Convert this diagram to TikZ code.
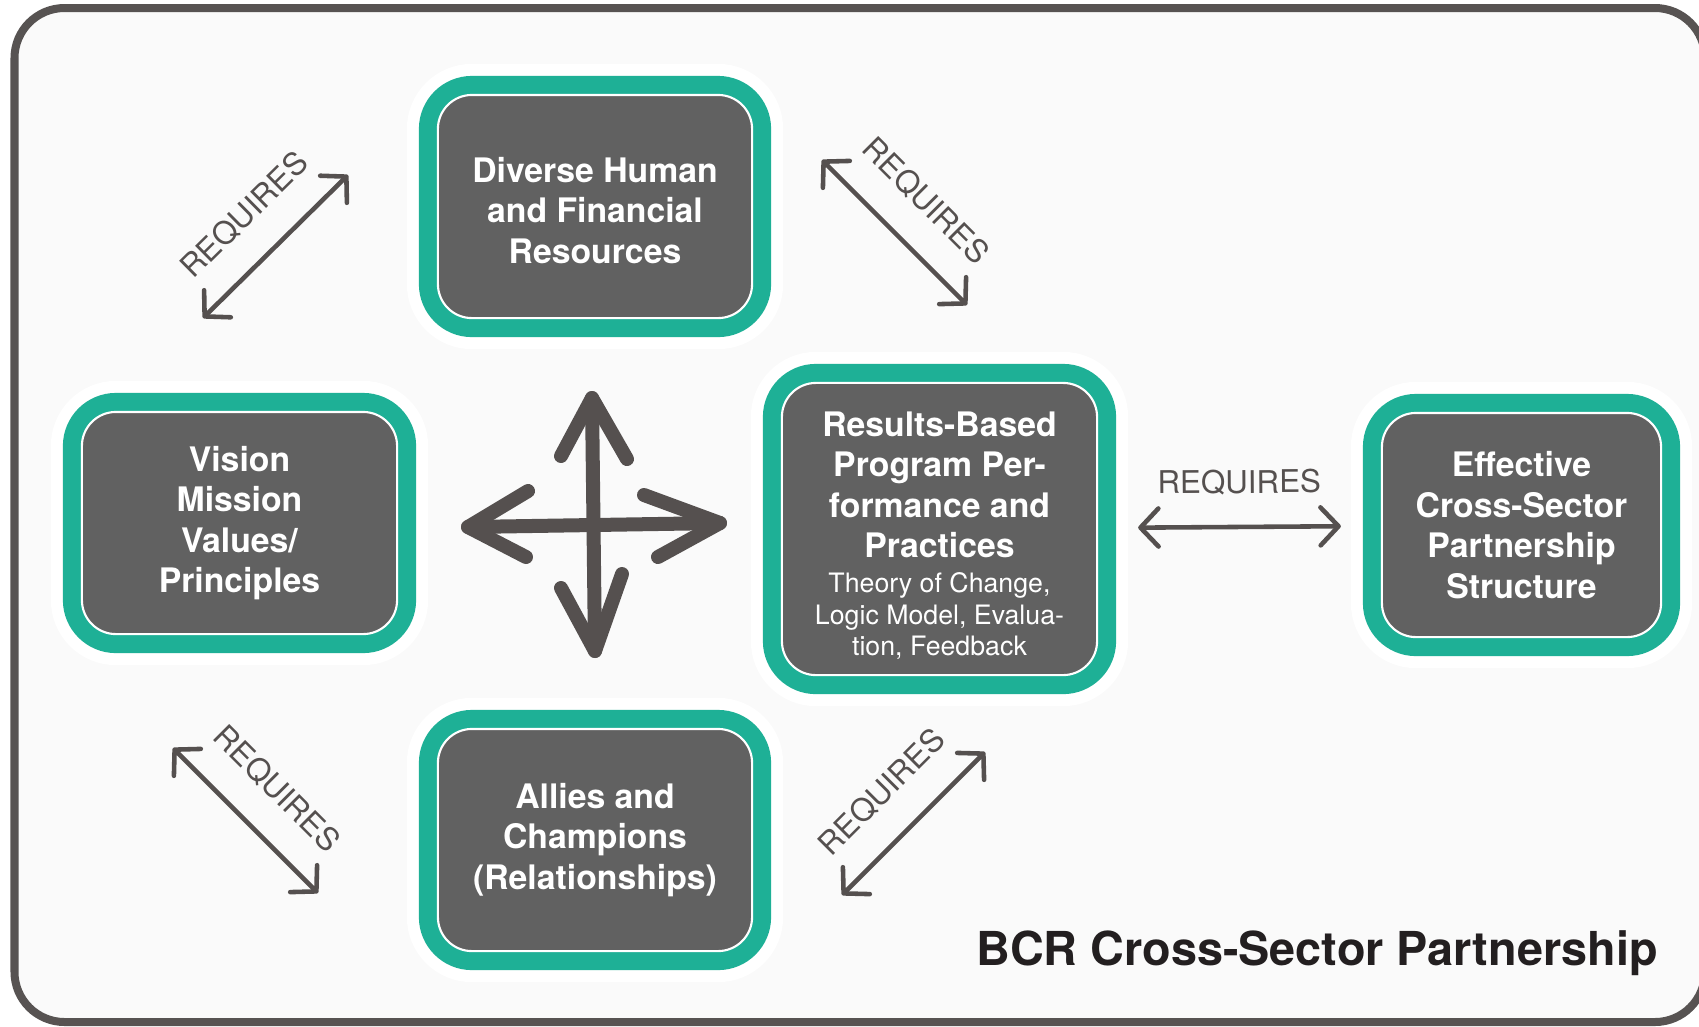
\documentclass[tikz,border=0pt]{standalone}
\usepackage{fontspec}
\setmainfont{TeX Gyre Heros}
\usetikzlibrary{arrows.meta}
\definecolor{ringgreen}{HTML}{1EB096}
\definecolor{boxgray}{HTML}{616161}
\definecolor{arrowgray}{HTML}{55504F}
\definecolor{framegray}{HTML}{575352}
\definecolor{bgfill}{HTML}{FAFAFA}
\definecolor{titleblack}{HTML}{231F20}
\newcommand{\subtxt}{\mdseries\fontsize{7.6}{8.8}\selectfont}

\tikzset{
  block/.style={fill=boxgray, draw=white, line width=0.6pt, rounded corners=0.34cm,
    preaction={draw=white, line width=0.62cm},
    preaction={draw=ringgreen, line width=0.38cm},
    text=white, align=center, inner sep=0pt,
    font=\bfseries\fontsize{9.6}{11.5}\selectfont},
  reqarrow/.style={draw=arrowgray, line width=1.3pt, line cap=round, <->,
    >={Straight Barb[length=1.8mm, width=3.8mm, round]}},
  reqlabel/.style={sloped, above=1.8mm, text=arrowgray,
    font=\fontsize{8.9}{10}\selectfont},
  crossarrow/.style={draw=arrowgray, line width=0.14cm, line cap=round, line join=round}
}

\begin{document}
\begin{tikzpicture}[x=0.01cm, y=-0.01cm]
  \useasboundingbox (0,0) rectangle (1699,1026);
  \clip (0,0) rectangle (1699,1026);
  \draw[draw=framegray, line width=0.08cm, fill=bgfill, rounded corners=0.5cm]
    (14.5,8) rectangle (1705,1022);

  \node[block, minimum width=3.14cm, minimum height=2.23cm] (resources) at (595,206.5)
    {\rule{0pt}{9.3pt}Diverse Human\\and Financial\\Resources};
  \node[block, minimum width=3.15cm, minimum height=2.22cm] (vision) at (239.5,523)
    {Vision\\Mission\\Values/\\Principles};
  \node[block, minimum width=3.15cm, minimum height=2.92cm] (results) at (939.5,529)
    {\rule{0pt}{10.7pt}Results-Based\\Program Per-\\formance and\\Practices\\[-1.5pt]
     \subtxt Theory of Change,\\[-2.6pt]\subtxt Logic Model, Evalua-\\[-2.6pt]
     \subtxt tion, Feedback};
  \node[block, minimum width=2.79cm, minimum height=2.24cm] (effective) at (1521.5,525)
    {Effective\\Cross-Sector\\Partnership\\Structure};
  \node[block, minimum width=3.14cm, minimum height=2.22cm] (allies) at (595,840)
    {Allies and\\Champions\\(Relationships)};

  \coordinate (vd1) at (203,318);
  \coordinate (vd2) at (348,175);
  \coordinate (dr1) at (822,160);
  \coordinate (dr2) at (967,305);
  \coordinate (va1) at (173,748);
  \coordinate (va2) at (318,893);
  \coordinate (ar1) at (842,895);
  \coordinate (ar2) at (985,752);

  \draw[reqarrow] (vd1) -- node[reqlabel] {REQUIRES} (vd2);
  \draw[reqarrow] (dr1) -- node[reqlabel] {REQUIRES} (dr2);
  \draw[reqarrow] (va1) -- node[reqlabel] {REQUIRES} (va2);
  \draw[reqarrow] (ar1) -- node[reqlabel] {REQUIRES} (ar2);
  \draw[reqarrow, shorten <=0.4cm, shorten >=0.4cm] (results) --
    node[reqlabel] {REQUIRES} (effective);

  \draw[crossarrow] (592,398) -- (595,651);
  \draw[crossarrow] (468,527) -- (720,523);
  \draw[crossarrow] (561,456) -- (592,398) -- (627,459);
  \draw[crossarrow] (561,588) -- (595,651) -- (622,574);
  \draw[crossarrow] (528,491) -- (468,527) -- (526,557);
  \draw[crossarrow] (644,495) -- (720,523) -- (658,557);

  \node[anchor=base, text=titleblack, font=\bfseries\fontsize{13.3}{16}\selectfont]
    (title) at (1317,965) {BCR Cross-Sector Partnership};
\end{tikzpicture}
\end{document}
